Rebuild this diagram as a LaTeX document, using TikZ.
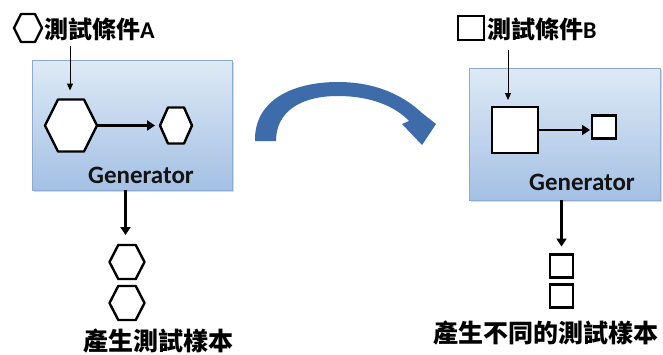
\documentclass[tikz,border=0pt]{standalone}
\usepackage{fontspec}
\setmainfont{Carlito}
\newfontfamily\cjkfont{Noto Sans CJK TC}
\usetikzlibrary{calc,arrows.meta,shadows}
\newcommand{\hexpath}[1]{(#1.west) -- ($(#1.north west)!.25!(#1.north east)$) -- ($(#1.north west)!.75!(#1.north east)$) -- (#1.east) -- ($(#1.south west)!.75!(#1.south east)$) -- ($(#1.south west)!.25!(#1.south east)$) -- cycle}
\begin{document}
\begin{tikzpicture}[x=1pt,y=-1pt,
  genbox/.style={draw={rgb,255:red,140;green,170;blue,210},line width=0.8pt,top color={rgb,255:red,222;green,234;blue,246},bottom color={rgb,255:red,164;green,192;blue,228},drop shadow={opacity=0.3,shadow xshift=1.5pt,shadow yshift=-2pt},inner sep=0pt},
  hexcell/.style={inner sep=0pt,outer sep=0pt,draw=none},
  hexline/.style={draw=black,fill=white,line width=2.4pt,line join=round},
  sqcell/.style={draw=black,fill=white,line width=2.8pt,inner sep=0pt,outer sep=0pt},
  thinarrow/.style={draw=black,line width=1pt,-{Triangle[length=7pt,width=6pt]}},
  thickarrow/.style={draw=black,line width=2.8pt,-{Triangle[length=8pt,width=10pt]}},
  gentext/.style={inner sep=0pt,font=\bfseries\fontsize{25}{30}\selectfont,text={rgb,255:red,20;green,20;blue,20}},
  labeltext/.style={inner sep=0pt,anchor=west,font=\cjkfont\bfseries\fontsize{24}{28}\selectfont},
  outtext/.style={inner sep=0pt,font=\cjkfont\bfseries\fontsize{25}{30}\selectfont}]
\path[use as bounding box] (0,0) rectangle (663,354);
\path[fill=white] (0,0) rectangle (663,354);
\node[genbox,minimum width=200pt,minimum height=130pt] (genA) at (132,125) {};
\node[hexcell,minimum width=28pt,minimum height=28pt] (hexA) at (28,28) {};
\node[labeltext] (lblA) at (44,29) {測試條件{\rmfamily\bfseries A}};
\coordinate (inA) at (70,46);
\coordinate (dropA) at (125.5,190);
\node[hexcell,minimum width=52pt,minimum height=52pt] (bigA) at (71,125.5) {};
\node[hexcell,minimum width=32pt,minimum height=36pt] (smallA) at (176,125.5) {};
\node[gentext] (txtA) at (141,175) {Generator};
\node[hexcell,minimum width=35pt,minimum height=34pt] (outA1) at (127,262) {};
\node[hexcell,minimum width=35pt,minimum height=34pt] (outA2) at (127,303) {};
\node[outtext] (resA) at (158,341) {產生測試樣本};
\draw[hexline] \hexpath{hexA};
\draw[hexline] \hexpath{bigA};
\draw[hexline] \hexpath{smallA};
\draw[hexline] \hexpath{outA1};
\draw[hexline] \hexpath{outA2};
\fill[fill={rgb,255:red,62;green,108;blue,170}] (255,141) .. controls (254,100) and (293,82) .. (338,82) .. controls (378,82) and (405,97) .. (422,113) -- (436,124) -- (422,145) -- (402,124) -- (409,121) .. controls (395,106) and (370,96) .. (338,96) .. controls (300,96) and (276,112) .. (276,141) -- cycle;
\node[genbox,minimum width=191pt,minimum height=132pt] (genB) at (564.5,134) {};
\node[sqcell,minimum width=26pt,minimum height=24pt] (sqB) at (471,28) {};
\node[labeltext] (lblB) at (487,29) {測試條件{\rmfamily\bfseries B}};
\coordinate (inB) at (508,50);
\node[sqcell,minimum width=46pt,minimum height=46pt] (bigB) at (515,130) {};
\node[sqcell,minimum width=24pt,minimum height=23pt] (smallB) at (604,127) {};
\node[gentext] (txtB) at (582,182) {Generator};
\node[sqcell,minimum width=23pt,minimum height=23pt] (outB1) at (561.5,266) {};
\node[sqcell,minimum width=23pt,minimum height=23pt] (outB2) at (561.5,296) {};
\node[outtext] (resB) at (546,333) {產生不同的測試樣本};
\draw[thinarrow,shorten >=9pt] (inA) -- (inA |- bigA.north);
\draw[thickarrow,shorten >=5pt] (bigA.east) -- (smallA.west);
\draw[thickarrow,shorten >=10pt] (dropA) -- (dropA |- outA1.north);
\draw[thinarrow,shorten >=7pt] (inB) -- (inB |- bigB.north);
\draw[thickarrow,shorten >=2pt] (bigB.east) -- (bigB.east -| smallB.west);
\draw[thickarrow,shorten >=8pt] (genB.south -| outB1) -- (outB1.north);
\end{tikzpicture}
\end{document}
